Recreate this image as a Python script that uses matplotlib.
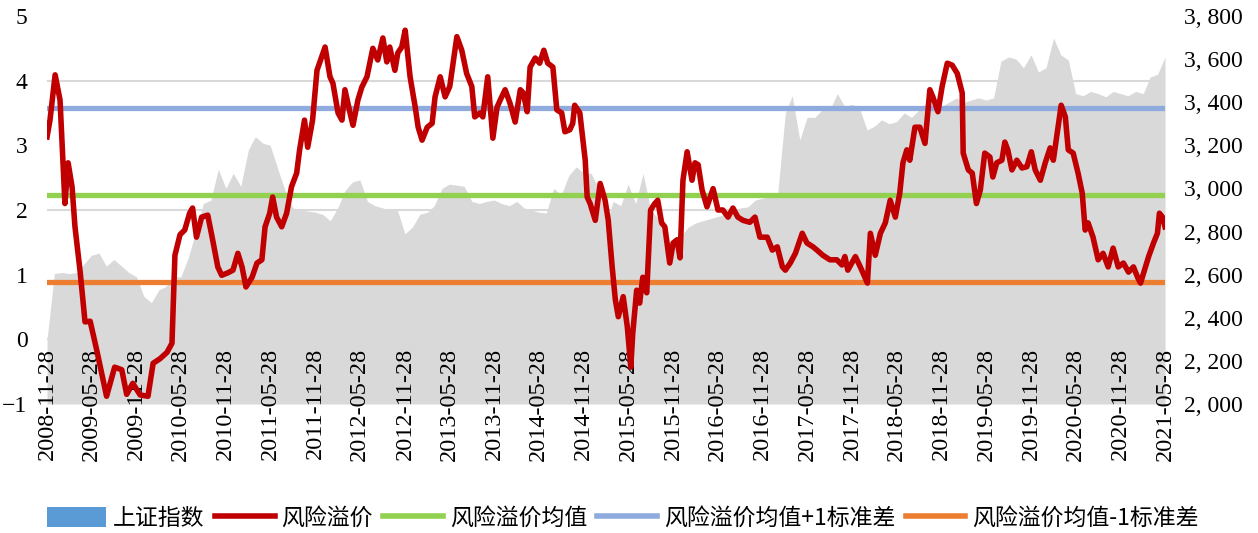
import numpy as np
import pandas as pd
import matplotlib
matplotlib.use('Agg')
import matplotlib.pyplot as plt
import matplotlib.ticker as mticker
from matplotlib.patches import Patch
from matplotlib.lines import Line2D

# 风险溢价 (左轴)
risk_dates = [
    '2008-11-28', '2008-12-10', '2008-12-31', '2009-01-20', '2009-02-09', '2009-02-22',
    '2009-03-10', '2009-03-22', '2009-04-12', '2009-05-02', '2009-05-23', '2009-06-19',
    '2009-07-29', '2009-08-31', '2009-09-29', '2009-10-19', '2009-11-13', '2009-12-13',
    '2010-01-14', '2010-02-04', '2010-03-04', '2010-04-02', '2010-04-22', '2010-05-04',
    '2010-05-25', '2010-06-13', '2010-07-03', '2010-07-15', '2010-07-31', '2010-08-21',
    '2010-09-15', '2010-10-05', '2010-10-26', '2010-11-11', '2010-12-07', '2010-12-27',
    '2011-01-16', '2011-02-02', '2011-02-18', '2011-03-15', '2011-04-04', '2011-04-24',
    '2011-05-07', '2011-05-26', '2011-06-07', '2011-06-23', '2011-07-14', '2011-08-03',
    '2011-08-23', '2011-09-13', '2011-09-25', '2011-10-15', '2011-10-28', '2011-11-17',
    '2011-12-05', '2012-01-07', '2012-01-27', '2012-02-08', '2012-02-29', '2012-03-16',
    '2012-03-28', '2012-04-18', '2012-04-30', '2012-05-20', '2012-06-05', '2012-06-26',
    '2012-07-20', '2012-08-09', '2012-08-30', '2012-09-15', '2012-09-27', '2012-10-18',
    '2012-10-30', '2012-11-15', '2012-11-29', '2012-12-19', '2013-01-09', '2013-01-21',
    '2013-02-06', '2013-02-27', '2013-03-19', '2013-03-31', '2013-04-21', '2013-05-11',
    '2013-05-30', '2013-06-28', '2013-07-18', '2013-08-07', '2013-08-28', '2013-09-09',
    '2013-09-30', '2013-10-12', '2013-11-01', '2013-11-22', '2013-12-09', '2013-12-22',
    '2014-01-11', '2014-01-31', '2014-02-21', '2014-03-14', '2014-03-26', '2014-04-11',
    '2014-04-23', '2014-05-14', '2014-06-01', '2014-06-18', '2014-07-04', '2014-07-25',
    '2014-08-10', '2014-08-30', '2014-09-12', '2014-10-02', '2014-10-14', '2014-10-22',
    '2014-11-12', '2014-12-04', '2014-12-12', '2014-12-24', '2015-01-14', '2015-02-03',
    '2015-02-23', '2015-03-08', '2015-03-24', '2015-04-06', '2015-04-18', '2015-05-08',
    '2015-05-25', '2015-06-08', '2015-06-16', '2015-07-02', '2015-07-14', '2015-07-27',
    '2015-08-12', '2015-08-28', '2015-09-14', '2015-09-26', '2015-10-12', '2015-10-25',
    '2015-11-14', '2015-11-28', '2015-12-14', '2015-12-26', '2016-01-07', '2016-01-24',
    '2016-02-13', '2016-02-25', '2016-03-09', '2016-03-25', '2016-04-14', '2016-05-09',
    '2016-05-29', '2016-06-18', '2016-07-09', '2016-07-29', '2016-08-18', '2016-09-08',
    '2016-10-06', '2016-10-27', '2016-11-16', '2016-12-16', '2017-01-06', '2017-01-26',
    '2017-02-16', '2017-02-28', '2017-03-20', '2017-04-10', '2017-05-08', '2017-05-27',
    '2017-06-21', '2017-07-07', '2017-07-31', '2017-08-29', '2017-09-26', '2017-10-17',
    '2017-10-29', '2017-11-10', '2017-12-11', '2017-12-31', '2018-01-29', '2018-02-10',
    '2018-03-02', '2018-03-23', '2018-04-12', '2018-05-02', '2018-05-23', '2018-06-10',
    '2018-06-23', '2018-07-09', '2018-07-21', '2018-08-11', '2018-08-31', '2018-09-21',
    '2018-10-11', '2018-10-23', '2018-11-13', '2018-11-30', '2018-12-21', '2019-01-10',
    '2019-01-31', '2019-02-20', '2019-02-24', '2019-03-17', '2019-04-02', '2019-04-19',
    '2019-05-05', '2019-05-23', '2019-06-13', '2019-06-25', '2019-07-11', '2019-08-01',
    '2019-08-13', '2019-08-25', '2019-09-11', '2019-10-01', '2019-10-22', '2019-11-11',
    '2019-11-29', '2019-12-15', '2020-01-05', '2020-01-25', '2020-02-14', '2020-02-27',
    '2020-03-14', '2020-03-30', '2020-04-16', '2020-04-28', '2020-05-18', '2020-06-07',
    '2020-06-24', '2020-07-06', '2020-07-18', '2020-08-07', '2020-08-28', '2020-09-17',
    '2020-10-08', '2020-10-28', '2020-11-18', '2020-12-09', '2020-12-30', '2021-01-19',
    '2021-02-05', '2021-02-17', '2021-03-09', '2021-03-22', '2021-04-11', '2021-04-27',
    '2021-05-05', '2021-05-18', '2021-05-28',
]
risk_values = [
    3.13, 3.39, 4.09, 3.70, 2.10, 2.73,
    2.36, 1.74, 1.05, 0.27, 0.28, -0.17,
    -0.88, -0.43, -0.47, -0.85, -0.68, -0.86,
    -0.88, -0.37, -0.30, -0.20, -0.06, 1.30,
    1.62, 1.69, 1.95, 2.03, 1.58, 1.89,
    1.92, 1.54, 1.12, 0.99, 1.03, 1.07,
    1.33, 1.12, 0.81, 0.96, 1.18, 1.23,
    1.74, 1.95, 2.20, 1.89, 1.74, 1.95,
    2.36, 2.57, 2.93, 3.39, 2.97, 3.39,
    4.16, 4.52, 4.06, 3.96, 3.50, 3.39,
    3.86, 3.50, 3.31, 3.70, 3.90, 4.06,
    4.50, 4.32, 4.66, 4.29, 4.52, 4.16,
    4.43, 4.52, 4.78, 4.06, 3.59, 3.28,
    3.08, 3.28, 3.34, 3.75, 4.06, 3.75,
    3.91, 4.68, 4.47, 4.11, 3.91, 3.44,
    3.50, 3.44, 4.06, 3.11, 3.59, 3.70,
    3.86, 3.65, 3.36, 3.86, 3.81, 3.52,
    4.21, 4.35, 4.27, 4.47, 4.27, 4.21,
    3.55, 3.50, 3.21, 3.24, 3.34, 3.62,
    3.50, 2.77, 2.20, 2.10, 1.84, 2.41,
    2.15, 1.84, 1.12, 0.61, 0.35, 0.66,
    0.19, -0.43, 0.09, 0.76, 0.56, 0.96,
    0.72, 2.00, 2.10, 2.15, 1.80, 1.74,
    1.18, 1.49, 1.54, 1.26, 2.46, 2.90,
    2.46, 2.73, 2.70, 2.31, 2.05, 2.33,
    2.00, 2.00, 1.89, 2.03, 1.89, 1.84,
    1.81, 1.89, 1.58, 1.58, 1.38, 1.43,
    1.12, 1.07, 1.18, 1.33, 1.64, 1.49,
    1.43, 1.38, 1.30, 1.23, 1.23, 1.15,
    1.28, 1.07, 1.28, 1.12, 0.87, 1.64,
    1.30, 1.64, 1.80, 2.15, 1.89, 2.26,
    2.73, 2.93, 2.77, 3.28, 3.28, 3.03,
    3.86, 3.75, 3.52, 3.91, 4.27, 4.24,
    4.11, 3.81, 2.88, 2.62, 2.57, 2.10,
    2.31, 2.88, 2.82, 2.51, 2.73, 2.77,
    3.05, 2.93, 2.62, 2.77, 2.65, 2.67,
    2.90, 2.62, 2.46, 2.73, 2.96, 2.77,
    3.19, 3.62, 3.44, 2.93, 2.88, 2.57,
    2.26, 1.69, 1.80, 1.58, 1.23, 1.33,
    1.12, 1.41, 1.12, 1.18, 1.04, 1.12,
    0.96, 0.87, 1.12, 1.28, 1.49, 1.64,
    1.95, 1.89, 1.74,
]

# 上证指数 (右轴), 每月28日
index_start = '2008-11-28'
index_values = [
    2300, 2605, 2610, 2605, 2610, 2650, 2690, 2700, 2640, 2670, 2640, 2610,
    2590, 2500, 2470, 2530, 2545, 2590, 2590, 2680, 2800, 2930, 2946, 3090,
    3000, 3070, 3010, 3180, 3240, 3210, 3200, 3090, 2990, 2910, 2900, 2895,
    2890, 2880, 2850, 2910, 2990, 3030, 3040, 2940, 2920, 2910, 2900, 2900,
    2790, 2820, 2880, 2890, 2920, 3000, 3020, 3015, 3010, 2940, 2930, 2940,
    2946, 2930, 2920, 2940, 2910, 2900, 2890, 2886, 3000, 2970, 3060, 3100,
    3072, 3070, 3000, 2830, 2940, 2920, 3020, 2930, 3070, 2900, 2860, 2760,
    2750, 2775, 2820, 2840, 2850, 2860, 2870, 2880, 2890, 2910, 2914, 2946,
    2955, 2960, 2980, 3350, 3430, 3225, 3330, 3330, 3364, 3364, 3440, 3380,
    3390, 3370, 3271, 3290, 3318, 3300, 3310, 3350, 3330, 3364, 3396, 3396,
    3380, 3400, 3420, 3400, 3410, 3420, 3410, 3420, 3590, 3610, 3600, 3560,
    3620, 3540, 3560, 3698, 3620, 3596, 3440, 3430, 3450, 3440, 3425, 3450,
    3440, 3430, 3450, 3440, 3517, 3530, 3610,
]

risk_mean = 2.23
risk_std = 1.34

num_font = ['Liberation Serif', 'Noto Sans CJK SC']
cjk_font = ['Noto Sans CJK SC', 'DejaVu Sans']

risk_x = pd.to_datetime(risk_dates)
index_x = pd.date_range(index_start, periods=len(index_values), freq=pd.DateOffset(months=1))
tick_x = pd.date_range('2008-11-28', '2021-05-28', freq=pd.DateOffset(months=6))

fig = plt.figure(figsize=(12.58, 5.33), dpi=100)
ax = fig.add_axes([0.0374, 0.242, 0.8887, 0.728])
ax2 = ax.twinx()
ax.set_zorder(ax2.get_zorder() + 1)
ax.patch.set_visible(False)

# 灰色面积 (上证指数) 画在右轴, 网格线在面积下面
ax2.fill_between(index_x, index_values, 2000, color='#D9D9D9', lw=0, zorder=2)
ax2.set_ylim(2000, 3800)
ax2.set_yticks(np.arange(2000, 3801, 200))
ax2.yaxis.set_major_formatter(mticker.FuncFormatter(lambda v, p: f'{v:,.0f}'.replace(',', ', ')))
ax2.yaxis.set_minor_locator(mticker.FixedLocator(np.arange(2000, 3801, 300)))
ax2.grid(which='minor', axis='y', color='#D9D9D9', lw=1.5, zorder=0)
ax2.set_axisbelow(True)
ax2.tick_params(axis='y', which='both', length=0, labelsize=17, pad=14)
for lab in ax2.get_yticklabels():
    lab.set_fontfamily(num_font)

# 均值线
ax.axhline(risk_mean + risk_std, color='#8FAADC', lw=3.8, zorder=2)
ax.axhline(risk_mean, color='#92D050', lw=3.8, zorder=2)
ax.axhline(risk_mean - risk_std, color='#ED7D31', lw=3.8, zorder=2)
ax.plot(risk_x, risk_values, color='#C00000', lw=4, zorder=3, solid_joinstyle='round')

for a in (ax, ax2):
    for s in a.spines.values():
        s.set_visible(False)
# x轴在0处穿过, 标签从0往下
ax.spines['bottom'].set_position(('data', 0))

ax.set_ylim(-1, 5)
ax.set_yticks(range(-1, 6))
ax.set_xlim(tick_x[0], tick_x[-1])
ax.set_xticks(tick_x)
ax.set_xticklabels([d.strftime('%Y-%m-%d') for d in tick_x], rotation=90, va='top', ha='center')
ax.tick_params(axis='x', length=0, labelsize=17.5, pad=6)
ax.tick_params(axis='y', length=0, labelsize=17, pad=14)
for lab in ax.get_xticklabels() + ax.get_yticklabels():
    lab.set_fontfamily(num_font)

handles = [
    Patch(facecolor='#5B9BD5', edgecolor='none'),
    Line2D([], [], color='#C00000', lw=4),
    Line2D([], [], color='#92D050', lw=4),
    Line2D([], [], color='#8FAADC', lw=4),
    Line2D([], [], color='#ED7D31', lw=4),
]
labels = ['上证指数', '风险溢价', '风险溢价均值', '风险溢价均值+1标准差', '风险溢价均值-1标准差']
fig.legend(handles, labels, loc='center', bbox_to_anchor=(0.495, 0.028), ncol=5, frameon=False,
           prop={'family': cjk_font, 'size': 16.5}, handlelength=2.6, handletextpad=0.3,
           columnspacing=0.45, handleheight=1.0)

fig.savefig('out.png', dpi=100)
